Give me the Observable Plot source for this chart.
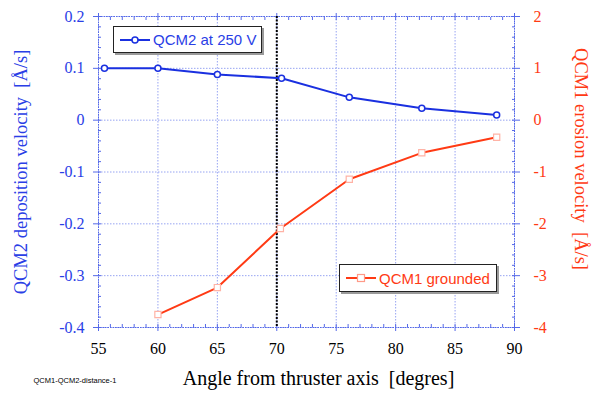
<!DOCTYPE html>
<html><head><meta charset="utf-8">
<script src="https://cdn.jsdelivr.net/npm/d3@7"></script>
<script src="https://cdn.jsdelivr.net/npm/@observablehq/plot@0.6"></script>
<style>
body{margin:0;background:#fff;}
#wrap{position:relative;width:599px;height:397px;}
.leg{position:absolute;background:#fff;border:1.5px solid #222;box-shadow:2px 2px 0 #9a9a9a;font-family:"Liberation Sans",Arial,sans-serif;font-size:15px;display:flex;align-items:center;box-sizing:border-box;padding-left:5px;}
.leg svg{margin-right:2px;}
</style></head>
<body><div id="wrap"></div>
<script>
const qcm2Angles = [55.5, 60, 65, 70.4, 76.1, 82.2, 88.5];
const qcm2Values = [0.100, 0.100, 0.088, 0.081, 0.044, 0.023, 0.010];
const qcm1Angles = [60, 65, 70.3, 76.1, 82.2, 88.5];
const qcm1Values = [-3.75, -3.23, -2.09, -1.14, -0.63, -0.33];
const xTicks = [55, 60, 65, 70, 75, 80, 85, 90];
const leftTicks = [0.2, 0.1, 0, -0.1, -0.2, -0.3, -0.4];
const rightTicks = [2, 1, 0, -1, -2, -3, -4];
const markerAngle = [70];
const rightScaleRatio = 10;

const blue = "#1a30e0", blueText = "#2a3ee6", red = "#ff3a14", frameBlue = "#5468e8", gridBlue = "#97a4f2";

const qcm2 = qcm2Angles.map((a, i) => ({a, v: qcm2Values[i]}));
const qcm1 = qcm1Angles.map((a, i) => ({a, v: qcm1Values[i] / rightScaleRatio}));
const minorX = d3.range(55, 90.5, 1);
const minorY = d3.range(0, 31).map(i => -0.4 + i * 0.02);
const serif = "'Liberation Serif','Times New Roman',serif";
const sans = "'Liberation Sans',Arial,sans-serif";

const chart = Plot.plot({
  width: 599, height: 397,
  marginTop: 16, marginLeft: 98, marginRight: 85, marginBottom: 70,
  x: {domain: [55, 90]},
  y: {domain: [-0.4, 0.2]},
  style: {background: "#fff", overflow: "visible"},
  marks: [
    Plot.gridX(xTicks, {stroke: gridBlue, strokeOpacity: 1, strokeDasharray: "1.5,1.5"}),
    Plot.gridY(leftTicks, {stroke: gridBlue, strokeOpacity: 1, strokeDasharray: "1.5,1.5"}),
    Plot.frame({stroke: frameBlue, strokeDasharray: "1.5,1"}),
    Plot.axisX(xTicks, {anchor: "bottom", tickSize: 4, tickPadding: 11, stroke: frameBlue, fill: "#000", fontFamily: serif, fontSize: 16, label: null}),
    Plot.axisX(xTicks, {anchor: "top", tickSize: 4, text: null, stroke: frameBlue, label: null}),
    Plot.axisX(minorX, {anchor: "bottom", tickSize: -3, text: null, stroke: frameBlue, label: null}),
    Plot.axisX(minorX, {anchor: "top", tickSize: -3, text: null, stroke: frameBlue, label: null}),
    Plot.axisY(leftTicks, {anchor: "left", tickSize: 5, tickPadding: 9, stroke: frameBlue, fill: blueText, fontFamily: serif, fontSize: 16, label: null,
      tickFormat: d => d === 0 ? "0" : d.toFixed(1)}),
    Plot.axisY(minorY, {anchor: "left", tickSize: -3, text: null, stroke: frameBlue, label: null}),
    Plot.axisY(rightTicks.map(d => d / rightScaleRatio), {anchor: "right", tickSize: 5, tickPadding: 14, stroke: frameBlue, fill: red, fontFamily: serif, fontSize: 16, label: null,
      tickFormat: d => String(Math.round(d * rightScaleRatio))}),
    Plot.axisY(minorY, {anchor: "right", tickSize: -3, text: null, stroke: frameBlue, label: null}),
    Plot.ruleX(markerAngle, {stroke: "#000", strokeWidth: 2, strokeDasharray: "2,1.5"}),
    Plot.line(qcm2, {x: "a", y: "v", stroke: blue, strokeWidth: 2}),
    Plot.dot(qcm2, {x: "a", y: "v", r: 3, stroke: blue, strokeWidth: 1.5, fill: "#fff"}),
    Plot.line(qcm1, {x: "a", y: "v", stroke: red, strokeWidth: 2}),
    Plot.dot(qcm1, {x: "a", y: "v", r: 3.5, symbol: "square", stroke: "#ffb3a6", strokeWidth: 1.2, fill: "#fff"}),
    Plot.text(["QCM2 deposition velocity  [Å/s]"], {text: d => d, frameAnchor: "left", textAnchor: "middle", dx: -77, rotate: -90, fill: blueText, fontFamily: serif, fontSize: 18.5}),
    Plot.text(["QCM1 erosion velocity  [Å/s]"], {text: d => d, frameAnchor: "right", textAnchor: "middle", dx: 66, dy: -13, rotate: 90, fill: red, fontFamily: serif, fontSize: 18.5}),
    Plot.text(["Angle from thruster axis  [degres]"], {text: d => d, frameAnchor: "bottom", textAnchor: "middle", dx: 12, dy: 57, fill: "#000", fontFamily: serif, fontSize: 20}),
    Plot.text(["QCM1-QCM2-distance-1"], {text: d => d, frameAnchor: "bottom-left", textAnchor: "start", dx: -65, dy: 55, fill: "#000", fontFamily: sans, fontSize: 7.5})
  ]
});
const wrap = document.getElementById("wrap");
wrap.appendChild(chart);

function legend(left, top, w, h, color, markerSvg, label) {
  const d = document.createElement("div");
  d.className = "leg";
  Object.assign(d.style, {left: left + "px", top: top + "px", width: w + "px", height: h + "px", color});
  d.innerHTML = `<svg width="32" height="12">${markerSvg}</svg><span>${label}</span>`;
  wrap.appendChild(d);
}
legend(113, 26, 149, 27, blueText,
  `<line x1="1" x2="31" y1="6" y2="6" stroke="${blue}" stroke-width="2"/><circle cx="16" cy="6" r="3" fill="#fff" stroke="${blue}" stroke-width="1.5"/>`,
  "QCM2 at 250 V");
legend(339, 264, 158, 28, red,
  `<line x1="1" x2="31" y1="6" y2="6" stroke="${red}" stroke-width="2"/><rect x="12.5" y="2.5" width="7" height="7" fill="#fff" stroke="#ff9a88" stroke-width="1.2"/>`,
  "QCM1 grounded");
</script>
</body></html>
